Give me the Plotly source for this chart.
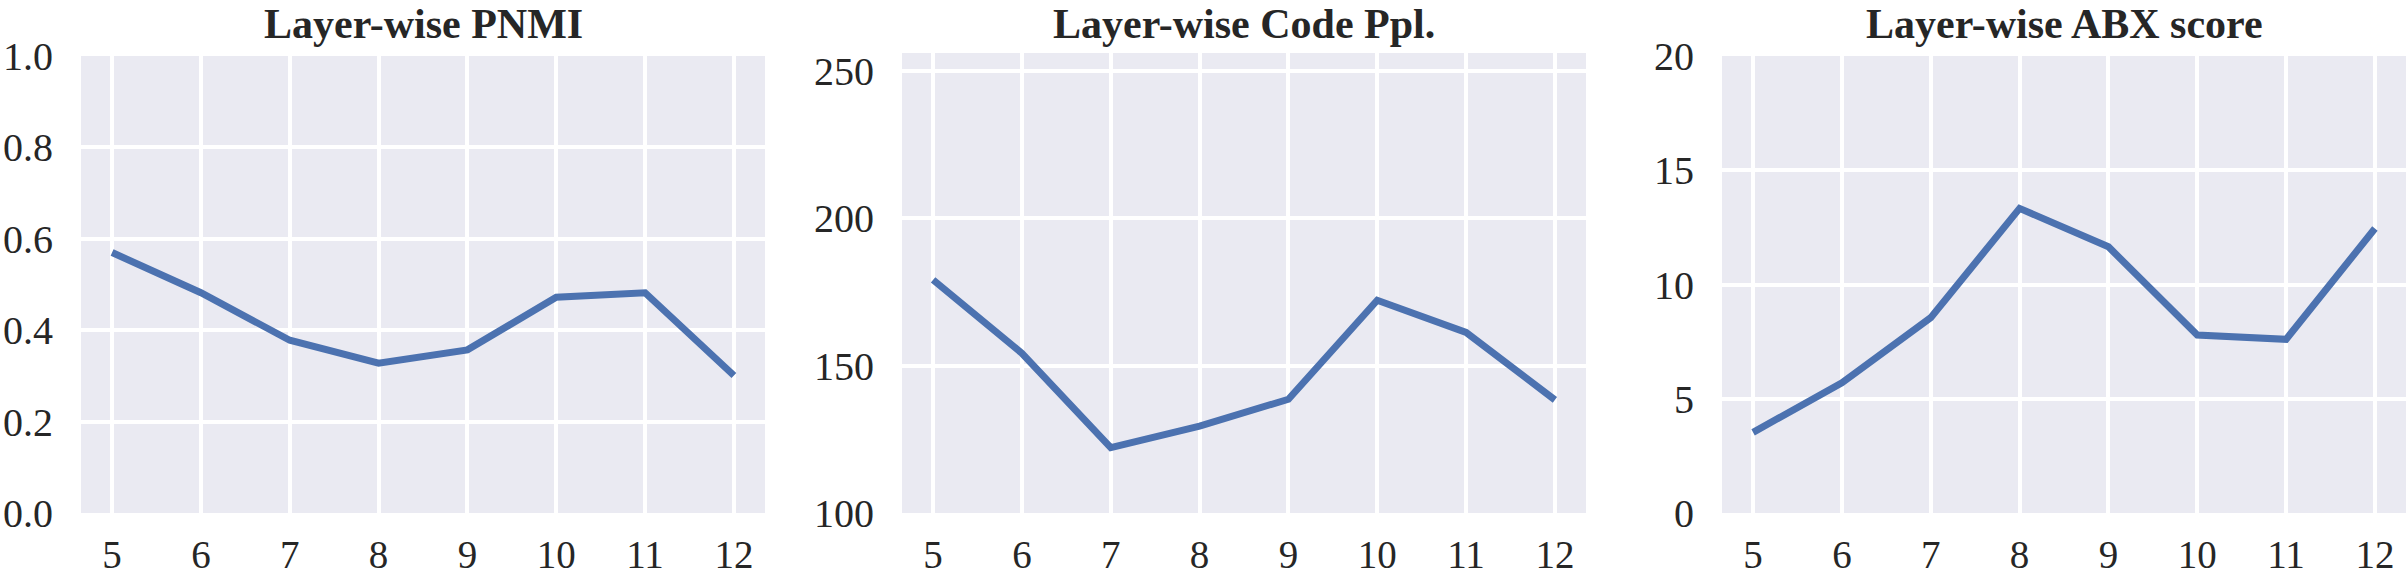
import plotly.graph_objects as go

layers = [5, 6, 7, 8, 9, 10, 11, 12]
pnmi = [0.570, 0.482, 0.378, 0.328, 0.357, 0.472, 0.482, 0.301]
code_ppl = [179.1, 154.2, 122.2, 129.5, 138.6, 172.2, 161.3, 138.4]
abx = [3.53, 5.70, 8.55, 13.33, 11.65, 7.79, 7.60, 12.45]
titles = ["Layer-wise PNMI", "Layer-wise Code Ppl.", "Layer-wise ABX score"]
y_ticks = [
    ([0.0, 0.2, 0.4, 0.6, 0.8, 1.0], ["0.0", "0.2", "0.4", "0.6", "0.8", "1.0"]),
    ([100, 150, 200, 250], ["100", "150", "200", "250"]),
    ([0, 5, 10, 15, 20], ["0", "5", "10", "15", "20"]),
]
y_ranges = [[0, 1.0], [100, 256.1], [0, 20]]

W, H = 2407, 575
ML, MR, MT, MB = 81, 1, 53, 62
PW = W - ML - MR
PH = H - MT - MB
panels_px = [(81, 765), (902, 1586), (1722, 2406)]
top_px = [56, 53, 56]

LINE = "#4C72B0"
BG = "#EAEAF2"
TXT = "#262626"
FONT = "Liberation Serif"

fig = go.Figure()
series = [pnmi, code_ppl, abx]
for i, ys in enumerate(series):
    sfx = "" if i == 0 else str(i + 1)
    fig.add_trace(go.Scatter(
        x=layers, y=ys, mode="lines",
        line=dict(color=LINE, width=7),
        xaxis="x" + sfx, yaxis="y" + sfx, showlegend=False,
    ))

layout = dict(
    width=W, height=H,
    margin=dict(l=ML, r=MR, t=MT, b=MB, pad=0, autoexpand=False),
    paper_bgcolor="white",
    plot_bgcolor=BG,
    font=dict(family=FONT, size=40, color=TXT),
    showlegend=False,
    annotations=[],
)
for i in range(3):
    sfx = "" if i == 0 else str(i + 1)
    x0, x1 = panels_px[i]
    dom_x = [(x0 - ML) / PW, (x1 - ML) / PW]
    dom_y = [0, (H - MB - top_px[i]) / PH]
    layout["xaxis" + sfx] = dict(
        domain=dom_x, anchor="y" + sfx,
        range=[4.65, 12.35],
        tickvals=layers, ticktext=[str(v) for v in layers],
        showgrid=True, gridcolor="white", gridwidth=4.3,
        zeroline=False, showline=False, automargin=False,
        ticks="outside", ticklen=7, tickcolor="rgba(0,0,0,0)",
        tickfont=dict(family=FONT, size=39, color=TXT),
        fixedrange=True,
    )
    tv, tt = y_ticks[i]
    layout["yaxis" + sfx] = dict(
        domain=dom_y, anchor="x" + sfx,
        range=y_ranges[i],
        tickvals=tv, ticktext=tt,
        showgrid=True, gridcolor="white", gridwidth=4.3,
        zeroline=False, showline=False, automargin=False,
        ticks="outside", ticklen=19, tickcolor="rgba(0,0,0,0)",
        tickfont=dict(family=FONT, size=40, color=TXT),
        fixedrange=True,
    )
    layout["annotations"].append(dict(
        text="<b>" + titles[i] + "</b>",
        xref="paper", yref="paper",
        x=(dom_x[0] + dom_x[1]) / 2, y=1.0,
        xanchor="center", yanchor="bottom",
        yshift=5, showarrow=False, borderpad=0,
        font=dict(family=FONT, size=42, color=TXT),
    ))

fig.update_layout(**layout)
fig.write_html("out.html")
